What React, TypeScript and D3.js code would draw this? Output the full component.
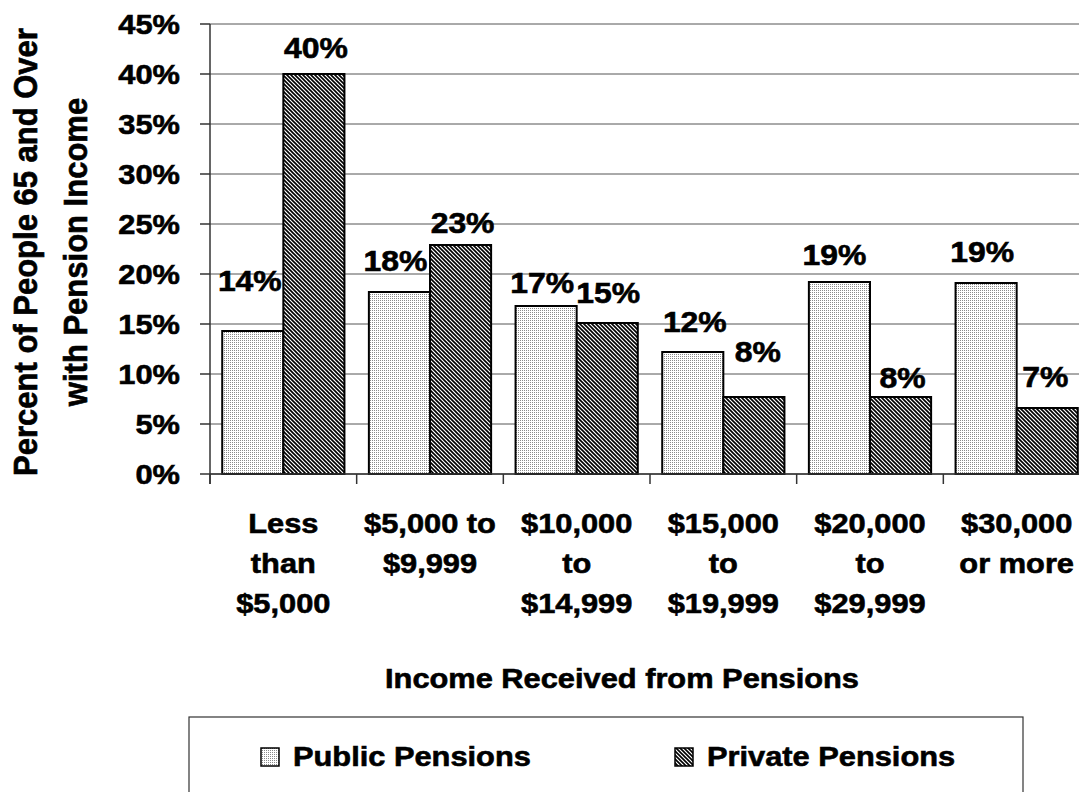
import React from "react";
import * as d3 from "d3";

// ---- data ----
const categories = [
  "Less\nthan\n$5,000",
  "$5,000 to\n$9,999",
  "$10,000\nto\n$14,999",
  "$15,000\nto\n$19,999",
  "$20,000\nto\n$29,999",
  "$30,000\nor more",
];
const seriesNames = ["Public Pensions", "Private Pensions"];
const publicValues = [14.3, 18.2, 16.8, 12.2, 19.2, 19.1];
const privateValues = [40.0, 22.9, 15.1, 7.7, 7.7, 6.6];
const yTickValues = [0, 5, 10, 15, 20, 25, 30, 35, 40, 45];
const xTitle = "Income Received from Pensions";
const yTitleLines = ["Percent of People 65 and Over", "with Pension Income"];

// manual label nudges (as placed in the original chart)
const publicLabelLift = [40, 21, 13, 20, 17, 21];
const privateLabelLift = [16, 12, 20, 35, 9, 21];
const publicLabelShift = [-3, -4, -4, 2, -5, -4];
const privateLabelShift = [2, 2, 1, 4, 2, -2];

// ---- layout ----
const W = 1079;
const H = 792;
const plot = { left: 210, right: 1090, top: 24, bottom: 474 };
const FONT = "'Liberation Sans', Arial, Helvetica, sans-serif";
const SX = 1.1; // horizontal stretch of the original rendering

function Txt({ x, y, size = 28, anchor = "middle", children }: any) {
  return (
    <text
      transform={`translate(${x},${y}) scale(${SX},1)`}
      fontFamily={FONT}
      fontWeight="bold"
      fontSize={size}
      textAnchor={anchor}
      fill="#000"
      stroke="#000"
      strokeWidth={0.6}
    >
      {children}
    </text>
  );
}

export default function App() {
  const x = d3
    .scaleBand<string>()
    .domain(categories)
    .range([plot.left, plot.right])
    .padding(0);
  const bw = x.bandwidth();
  const barW = bw / 2.4;
  const inner = d3
    .scaleBand<string>()
    .domain(seriesNames)
    .range([0.2 * barW, 0.2 * barW + 2 * barW])
    .padding(0);
  const y = d3.scaleLinear().domain([0, 45]).range([plot.bottom, plot.top]);

  const series = [
    { name: seriesNames[0], values: publicValues, fill: "url(#dots)", lift: publicLabelLift, shift: publicLabelShift },
    { name: seriesNames[1], values: privateValues, fill: "url(#hatch)", lift: privateLabelLift, shift: privateLabelShift },
  ];

  const boundaries = d3.range(categories.length + 1).map((i) => plot.left + i * bw);

  return (
    <div style={{ position: "absolute", left: 0, top: 0, width: W, height: H, overflow: "hidden", background: "#fff" }}>
      <svg width={W} height={H} style={{ display: "block" }}>
        <defs>
          <pattern id="dots" width={2} height={2} patternUnits="userSpaceOnUse">
            <rect width={2} height={2} fill="#fff" />
            <rect width={1} height={1} fill="#8a8a8a" />
          </pattern>
          <pattern id="hatch" width={4} height={4} patternUnits="userSpaceOnUse">
            <rect width={4} height={4} fill="#fff" />
            <path d="M-1,-1 L5,5 M3,-1 L5,1 M-1,3 L1,5" stroke="#000" strokeWidth={1.6} />
          </pattern>
        </defs>

        {/* gridlines */}
        {yTickValues.map((t) => (
          <line key={"g" + t} x1={plot.left} x2={plot.right} y1={y(t)} y2={y(t)} stroke="#555" strokeWidth={1} />
        ))}

        {/* bars */}
        {series.map((s) =>
          categories.map((c, i) => (
            <rect
              key={s.name + c}
              x={(x(c) as number) + (inner(s.name) as number)}
              y={y(s.values[i])}
              width={inner.bandwidth()}
              height={y(0) - y(s.values[i])}
              fill={s.fill}
              stroke="#000"
              strokeWidth={2}
            />
          ))
        )}

        {/* axes */}
        <line x1={plot.left} x2={plot.left} y1={plot.top} y2={plot.bottom + 10} stroke="#333" strokeWidth={1.5} />
        <line x1={plot.left} x2={plot.right} y1={plot.bottom} y2={plot.bottom} stroke="#333" strokeWidth={1.5} />
        {yTickValues.map((t) => (
          <line key={"yt" + t} x1={plot.left - 10} x2={plot.left} y1={y(t)} y2={y(t)} stroke="#333" strokeWidth={1.5} />
        ))}
        {boundaries.map((b, i) => (
          <line key={"xt" + i} x1={b} x2={b} y1={plot.bottom} y2={plot.bottom + 10} stroke="#333" strokeWidth={1.5} />
        ))}

        {/* y tick labels */}
        {yTickValues.map((t) => (
          <Txt key={"yl" + t} x={180} y={y(t) + 10} anchor="end">
            {t + "%"}
          </Txt>
        ))}

        {/* data labels */}
        {series.map((s) =>
          categories.map((c, i) => (
            <Txt
              key={"dl" + s.name + c}
              x={(x(c) as number) + (inner(s.name) as number) + inner.bandwidth() / 2 + s.shift[i]}
              y={y(s.values[i]) - s.lift[i]}
              size={29}
            >
              {Math.round(s.values[i]) + "%"}
            </Txt>
          ))
        )}

        {/* category labels */}
        {categories.map((c) =>
          c.split("\n").map((line, j) => (
            <Txt key={"cl" + c + j} x={(x(c) as number) + bw / 2} y={533 + j * 40}>
              {line}
            </Txt>
          ))
        )}

        {/* x title */}
        <Txt x={622} y={688}>
          {xTitle}
        </Txt>

        {/* y title */}
        {yTitleLines.map((l, j) => (
          <text
            key={"yt" + j}
            transform={`translate(${37 + j * 50},252) scale(${SX},1) rotate(-90)`}
            fontFamily={FONT}
            fontWeight="bold"
            fontSize={31}
            textAnchor="middle"
            fill="#000"
            stroke="#000"
            strokeWidth={0.6}
          >
            {l}
          </text>
        ))}

        {/* legend */}
        <rect x={189} y={717} width={834} height={90} fill="#fff" stroke="#333" strokeWidth={1.2} />
        {series.map((s, k) => {
          const mx = k === 0 ? 261 : 675;
          return (
            <g key={"lg" + k}>
              <rect x={mx} y={748} width={18} height={18} fill={s.fill} stroke="#000" strokeWidth={1.5} />
              <Txt x={mx + 32} y={766} anchor="start">
                {s.name}
              </Txt>
            </g>
          );
        })}
      </svg>
    </div>
  );
}
